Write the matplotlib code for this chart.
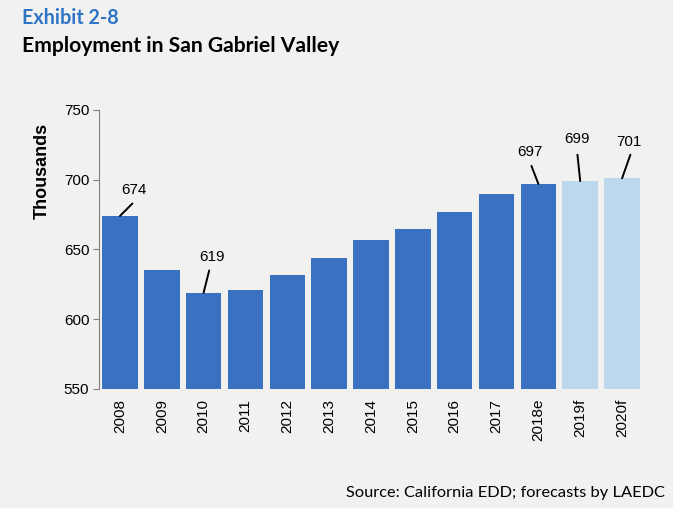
import matplotlib.pyplot as plt

# Employment in San Gabriel Valley, thousands of jobs
years = ['2008', '2009', '2010', '2011', '2012', '2013', '2014',
         '2015', '2016', '2017', '2018e', '2019f', '2020f']
jobs = [674, 635, 619, 621, 632, 644, 657, 665, 677, 690, 697, 699, 701]
forecast = [False] * 11 + [True] * 2

# labelled bars: index -> (line end offset, text offset) in points
callouts = {
    0: ((9, 9), (10, 19)),
    2: ((4, 16), (6, 26)),
    10: ((-5, 13), (-6, 23)),
    11: ((-2, 19), (-2, 30)),
    12: ((6, 17), (5, 26)),
}

font = 'Liberation Sans'
bg = '#f1f1ef'

fig = plt.figure(figsize=(6.73, 5.08), dpi=100, facecolor=bg)
ax = fig.add_axes([0.1471, 0.2343, 0.8083, 0.5492], facecolor=bg)

colors = ['#bdd7ee' if f else '#3b71c1' for f in forecast]
x = range(len(years))
ax.bar(x, jobs, width=0.85, color=colors, zorder=2)

ax.set_xlim(-0.5, len(years) - 0.5)
ax.set_ylim(550, 750)
ax.set_yticks([550, 600, 650, 700, 750])
ax.set_xticks(list(x))
ax.set_xticklabels(years, rotation=90, family=font, fontsize=11)
for lab in ax.get_yticklabels():
    lab.set_family(font)
    lab.set_fontsize(11)

ax.tick_params(axis='x', length=0, pad=7)
ax.tick_params(axis='y', length=4, width=0.8, color='#808080', pad=3)
for s in ['top', 'right', 'bottom']:
    ax.spines[s].set_visible(False)
ax.spines['left'].set_color('#808080')
ax.spines['left'].set_linewidth(0.8)

for i, (line_end, text_off) in callouts.items():
    ax.annotate('', xy=(i, jobs[i]), xytext=line_end, textcoords='offset points',
                arrowprops=dict(arrowstyle='-', color='black', lw=1.4,
                                shrinkA=0, shrinkB=0))
    ax.annotate(str(jobs[i]), xy=(i, jobs[i]), xytext=text_off,
                textcoords='offset points', ha='center', va='center',
                family=font, fontsize=11)

fig.text(42 / 673, 1 - 171 / 508, 'Thousands', rotation=90, ha='center', va='center',
         family=font, fontweight='bold', fontsize=13)

fig.text(22 / 673, 1 - 18 / 508, 'Exhibit 2-8', color='#2e75c6', family='Lato',
         fontweight='bold', fontsize=14.2, ha='left', va='center')
fig.text(22 / 673, 1 - 46 / 508, 'Employment in San Gabriel Valley', color='black',
         family='Lato', fontweight='bold', fontsize=15.2, ha='left', va='center')
fig.text(665 / 673, 1 - 493 / 508, 'Source: California EDD; forecasts by LAEDC',
         family='Lato', fontsize=11.8, ha='right', va='center')

fig.savefig('out.png', dpi=100, facecolor=bg)
